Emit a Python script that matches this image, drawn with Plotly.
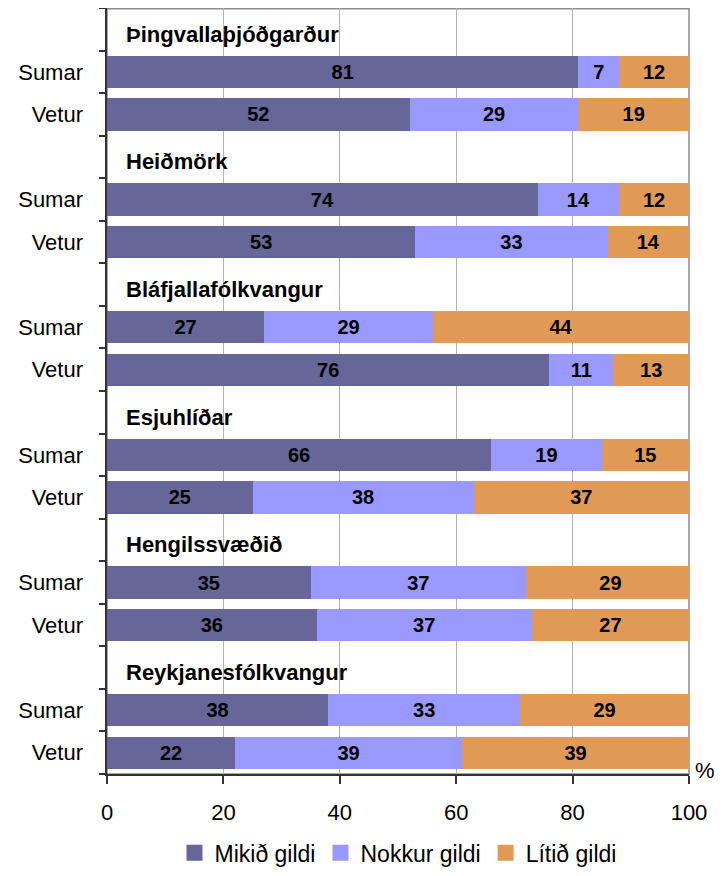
import plotly.graph_objects as go

areas = ["Þingvallaþjóðgarður", "Heiðmörk", "Bláfjallafólkvangur",
         "Esjuhlíðar", "Hengilssvæðið", "Reykjanesfólkvangur"]
seasons = ["Sumar", "Vetur"]
series_names = ["Mikið gildi", "Nokkur gildi", "Lítið gildi"]

# values per area: [Sumar, Vetur]
mikid = [[81, 52], [74, 53], [27, 76], [66, 25], [35, 36], [38, 22]]
nokkur = [[7, 29], [14, 33], [29, 11], [19, 38], [37, 37], [33, 39]]
litid = [[12, 19], [12, 14], [44, 13], [15, 37], [29, 27], [29, 39]]

x_ticks = [0, 20, 40, 60, 80, 100]

colors = ["#666699", "#9999FF", "#E09A55"]
FONT = "Liberation Sans, Arial, sans-serif"

# y positions: each area uses 3 slots (title, Sumar, Vetur)
ypos, ylabels = [], []
for g in range(len(areas)):
    for s, lab in enumerate(seasons):
        ypos.append(3 * g + 1 + s)
        ylabels.append(lab)

fig = go.Figure()
for name, data, col in zip(series_names, [mikid, nokkur, litid], colors):
    vals = [v for pair in data for v in pair]
    fig.add_trace(go.Bar(
        x=vals, y=ypos, orientation="h", width=0.76,
        marker=dict(color=col, line=dict(width=0)),
        text=[str(v) for v in vals], textposition="inside",
        insidetextanchor="middle", textangle=0,
        textfont=dict(family=FONT, size=20, color="black", weight="bold"),
        showlegend=False, name=name, hoverinfo="skip",
    ))
    fig.add_trace(go.Scatter(
        x=[None], y=[None], mode="markers", name=name,
        marker=dict(symbol="square", size=17, color=col),
        showlegend=True,
    ))

nslots = 3 * len(areas)
yrange = [nslots - 0.5, -0.5]

annotations = []
for g, a in enumerate(areas):
    annotations.append(dict(
        x=3, y=3 * g, xref="x", yref="y", text="<b>" + a + "</b>",
        showarrow=False, xanchor="left", yanchor="middle", yshift=-5,
        font=dict(family=FONT, size=22, color="black"),
    ))
annotations.append(dict(
    x=1.0, y=0, xref="paper", yref="paper", text="%", showarrow=False,
    xanchor="left", yanchor="middle", xshift=4, yshift=4,
    font=dict(family=FONT, size=22, color="black"),
))

# the page adds an 8px body margin, so the figure is drawn 8px smaller
fig.update_layout(
    width=714, height=868,
    margin=dict(l=99, r=33, t=0, b=102),
    paper_bgcolor="white", plot_bgcolor="white",
    barmode="stack",
    font=dict(family=FONT, size=22, color="black"),
    xaxis=dict(
        range=[0, 100], tickvals=x_ticks, ticktext=[str(t) for t in x_ticks],
        showgrid=True, gridcolor="#B4B4B4", gridwidth=1,
        showline=True, linecolor="#333333", linewidth=2,
        ticks="outside", ticklen=8, tickcolor="#333333", tickwidth=2,
        tickfont=dict(family=FONT, size=22, color="black"),
        ticklabelstandoff=10, zeroline=False, fixedrange=True,
    ),
    yaxis=dict(
        range=yrange, tickvals=ypos, ticktext=ylabels,
        showgrid=False, zeroline=False, showline=False,
        ticks="", tickfont=dict(family=FONT, size=22, color="black"),
        ticklabelstandoff=23,
    ),
    yaxis2=dict(
        range=yrange, overlaying="y", side="left",
        tickvals=[i - 0.5 for i in range(nslots + 1)],
        showticklabels=False, showgrid=False, zeroline=False,
        showline=True, linecolor="#333333", linewidth=2,
        ticks="outside", ticklen=6, tickcolor="#333333", tickwidth=2,
    ),
    legend=dict(
        orientation="h", x=0.5, xanchor="center", y=-0.131, yanchor="bottom",
        font=dict(family=FONT, size=23, color="black"),
        itemwidth=30, traceorder="normal",
    ),
    annotations=annotations,
    shapes=[dict(type="rect", xref="paper", yref="paper", x0=0, x1=1, y0=0, y1=0.999,
                 line=dict(color="#8C8C8C", width=1.5), layer="between")],
)
# dummy trace for yaxis2 so ticks render
fig.add_trace(go.Scatter(x=[None], y=[None], yaxis="y2", showlegend=False, hoverinfo="skip"))

fig.write_html("out.html")
